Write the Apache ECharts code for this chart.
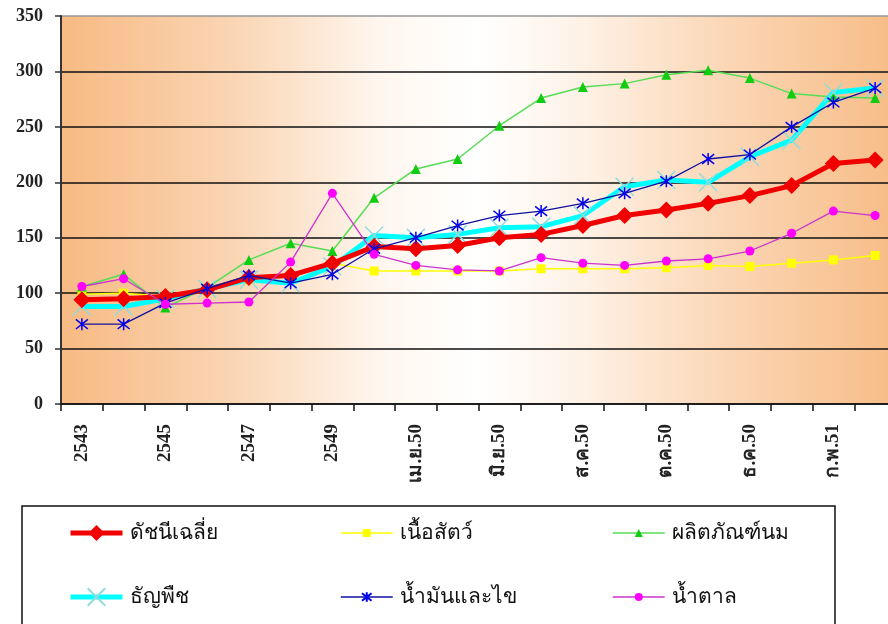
<!DOCTYPE html>
<html>
<head>
<meta charset="utf-8">
<script src="https://cdn.jsdelivr.net/npm/echarts@6/dist/echarts.min.js"></script>
<style>
  html, body { margin: 0; padding: 0; background: #fff; overflow: hidden; }
  #chart { width: 896px; height: 624px; }
</style>
</head>
<body>
<div id="chart"></div>
<script>
// Food price indices, 2543 (base ~100) through early 2551
const categories = ['2543', '2544', '2545', '2546', '2547', '2548', '2549',
  'มี.ค.50', 'เม.ย.50', 'พ.ค.50', 'มิ.ย.50', 'ก.ค.50', 'ส.ค.50', 'ก.ย.50',
  'ต.ค.50', 'พ.ย.50', 'ธ.ค.50', 'ม.ค.51', 'ก.พ.51', 'มี.ค.51'];

const averageIndex = [94, 95, 97, 103, 114, 116, 127, 142, 140, 143, 150, 153, 161, 170, 175, 181, 188, 197, 217, 220];
const meat         = [99, 100, 97, 104, 112, 116, 127, 120, 120, 120, 120, 122, 122, 122, 123, 125, 124, 127, 130, 134];
const dairy        = [106, 117, 87, 105, 130, 145, 138, 186, 212, 221, 251, 276, 286, 289, 297, 301, 294, 280, 277, 276];
const cereals      = [88, 88, 95, 104, 112, 109, 124, 152, 150, 153, 159, 160, 170, 196, 202, 200, 223, 238, 281, 285];
const oils         = [72, 72, 91, 104, 116, 109, 117, 140, 150, 161, 170, 174, 181, 190, 201, 221, 225, 250, 272, 285];
const sugar        = [106, 113, 90, 91, 92, 128, 190, 135, 125, 121, 120, 132, 127, 125, 129, 131, 138, 154, 174, 170];

const yTicks = [0, 50, 100, 150, 200, 250, 300, 350];

const seriesNames = ['ดัชนีเฉลี่ย', 'เนื้อสัตว์', 'ผลิตภัณฑ์นม', 'ธัญพืช', 'น้ำมันและไข', 'น้ำตาล'];

const SERIF = '"Liberation Serif", "Times New Roman", serif';
const X_MARK = 'path://M0,0L10,10M10,0L0,10';
const STAR_MARK = 'path://M5,0L5,10M0,1L10,9M10,1L0,9';

const chart = echarts.init(document.getElementById('chart'), null, { renderer: 'canvas' });

// one legend block per entry so the three columns line up
function legendAt(name, left, centerY, iconH, lineW) {
  return {
    data: [name],
    left: left,
    top: centerY - 13,
    padding: 0,
    itemWidth: 52,
    itemHeight: iconH,
    itemGap: 0,
    selectedMode: false,
    lineStyle: { width: lineW },
    textStyle: { fontFamily: SERIF, fontSize: 21, color: '#111', lineHeight: 26, padding: [0, 0, 0, 2] }
  };
}

const option = {
  backgroundColor: '#ffffff',
  animation: false,
  graphic: [{
    type: 'rect',
    z: -1,
    shape: { x: 22, y: 506, width: 813, height: 130 },
    style: { fill: '#ffffff', stroke: '#111', lineWidth: 1.5 }
  }],
  legend: [
    legendAt(seriesNames[0], 68, 533, 20, 5),
    legendAt(seriesNames[1], 340, 533, 10, 1.5),
    legendAt(seriesNames[2], 612, 533, 10, 1.5),
    legendAt(seriesNames[3], 68, 597, 22, 5),
    legendAt(seriesNames[4], 340, 597, 12, 1.5),
    legendAt(seriesNames[5], 612, 597, 10, 1.5)
  ],
  grid: {
    left: 61, right: 0, top: 16, bottom: 220,
    show: true,
    borderWidth: 0,
    backgroundColor: new echarts.graphic.LinearGradient(0, 0, 1, 0, [
      { offset: 0, color: '#F7BA83' },
      { offset: 0.2, color: '#FAD4B2' },
      { offset: 0.38, color: '#FFF6EE' },
      { offset: 0.5, color: '#FFFFFF' },
      { offset: 0.62, color: '#FEF2E7' },
      { offset: 0.8, color: '#FBD6B5' },
      { offset: 1, color: '#F7BC86' }
    ])
  },
  xAxis: {
    type: 'category',
    data: categories,
    boundaryGap: true,
    axisLine: { lineStyle: { color: '#111', width: 1.5 } },
    axisTick: { show: true, length: 7, interval: 0, lineStyle: { color: '#111', width: 1.5 } },
    axisLabel: {
      interval: 1,
      rotate: 90,
      margin: 20,
      fontFamily: SERIF,
      fontWeight: 'bold',
      fontSize: 19,
      color: '#222'
    },
    splitLine: { show: false }
  },
  yAxis: {
    type: 'value',
    min: yTicks[0],
    max: yTicks[yTicks.length - 1],
    interval: 50,
    axisLine: { show: true, lineStyle: { color: '#333', width: 2 } },
    axisTick: { show: true, length: 6, lineStyle: { color: '#333', width: 1.5 } },
    axisLabel: {
      margin: 18,
      fontFamily: SERIF,
      fontWeight: 'bold',
      fontSize: 18,
      color: '#222'
    },
    splitLine: {
      show: true,
      lineStyle: {
        color: ['#111', '#111', '#111', '#111', '#111', '#111', '#111', '#999'],
        width: 1.6
      }
    }
  },
  series: [
    {
      name: seriesNames[0], type: 'line', data: averageIndex,
      symbol: 'diamond', symbolSize: 17, z: 3,
      lineStyle: { color: '#F00000', width: 5 },
      itemStyle: { color: '#F00000' }
    },
    {
      name: seriesNames[1], type: 'line', data: meat,
      symbol: 'rect', symbolSize: 9, z: 2,
      lineStyle: { color: '#FFFF00', width: 1.5 },
      itemStyle: { color: '#FFFF00' }
    },
    {
      name: seriesNames[2], type: 'line', data: dairy,
      symbol: 'triangle', symbolSize: 10, z: 2,
      lineStyle: { color: '#55DD55', width: 1.5 },
      itemStyle: { color: '#11CC11' }
    },
    {
      name: seriesNames[3], type: 'line', data: cereals,
      symbol: X_MARK, symbolSize: 18, z: 2,
      lineStyle: { color: '#00FFFF', width: 5 },
      itemStyle: { color: 'rgba(0,0,0,0)', borderColor: '#8FDCDC', borderWidth: 1.5 }
    },
    {
      name: seriesNames[4], type: 'line', data: oils,
      symbol: STAR_MARK, symbolSize: 12, z: 4,
      lineStyle: { color: '#1010A0', width: 1.3 },
      itemStyle: { color: 'rgba(0,0,0,0)', borderColor: '#0000EE', borderWidth: 1.5 }
    },
    {
      name: seriesNames[5], type: 'line', data: sugar,
      symbol: 'circle', symbolSize: 9, z: 4,
      lineStyle: { color: '#CC33CC', width: 1.3 },
      itemStyle: { color: '#FF00FF' }
    }
  ]
};

chart.setOption(option);
</script>
</body>
</html>
